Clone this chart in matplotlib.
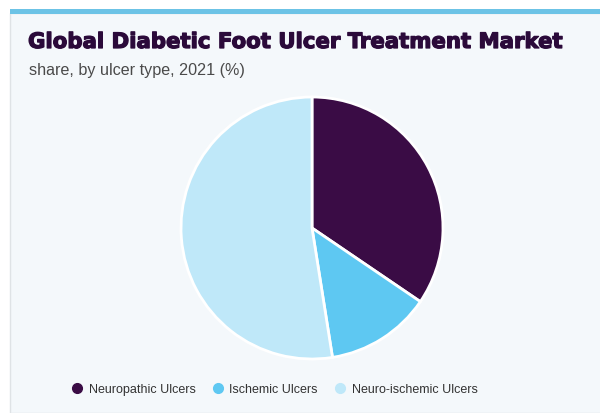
import matplotlib
matplotlib.use("Agg")
import matplotlib.pyplot as plt
from matplotlib.patches import Rectangle
from matplotlib.lines import Line2D
import matplotlib.patheffects as pe

# Ulcer type shares, 2021 (%)
ulcer_types = ["Neuropathic Ulcers", "Ischemic Ulcers", "Neuro-ischemic Ulcers"]
shares = [34.5, 13.0, 52.5]
colors = ["#3a0c45", "#5ec8f2", "#bfe8f9"]

W, H = 600, 414
fig = plt.figure(figsize=(W / 100, H / 100), dpi=100)
fig.patch.set_facecolor("white")

# card background with a blue strip along the top
fig.patches.append(Rectangle((10 / W, 0), 1, 1 - 14 / H, transform=fig.transFigure,
                             facecolor="#f4f8fb", edgecolor="#dfe3e6", lw=1, zorder=0))
fig.patches.append(Rectangle((10 / W, 1 - 15 / H), 1, 5 / H, transform=fig.transFigure,
                             facecolor="#6cc3e6", edgecolor="none", zorder=1))

fig.text(28 / W, 1 - 43 / H, "Global Diabetic Foot Ulcer Treatment Market",
         fontsize=15.3, fontweight="bold", family="DejaVu Sans", color="#2b0a3a",
         va="center", ha="left",
         path_effects=[pe.withStroke(linewidth=0.9, foreground="#2b0a3a")])
fig.text(29 / W, 1 - 70 / H, "share, by ulcer type, 2021 (%)",
         fontsize=11.6, family="Liberation Sans", color="#4a4a4a",
         va="center", ha="left")

# pie
cx, cy, r = 312, 229, 131
pad = 1.02
ax = fig.add_axes([(cx - r * pad) / W, (H - cy - r * pad) / H,
                   2 * r * pad / W, 2 * r * pad / H])
ax.set_zorder(3)
ax.pie(shares, colors=colors, startangle=90, counterclock=False, radius=1,
       wedgeprops=dict(edgecolor="white", linewidth=2))
ax.set_xlim(-pad, pad)
ax.set_ylim(-pad, pad)
ax.set_aspect("equal")
ax.set_axis_off()

handles = [Line2D([], [], marker="o", linestyle="none", markersize=7,
                  markerfacecolor=c, markeredgecolor=c) for c in colors]
leg = fig.legend(handles, ulcer_types, loc="center", ncol=3, frameon=False,
                 bbox_to_anchor=(273 / W, 1 - 390 / H), handletextpad=0.2,
                 handlelength=1.4, columnspacing=1.1,
                 prop=dict(family="Liberation Sans", size=9))
leg.set_zorder(3)
for t in leg.get_texts():
    t.set_color("#333333")

fig.savefig("out.png", dpi=100, facecolor=fig.get_facecolor())
